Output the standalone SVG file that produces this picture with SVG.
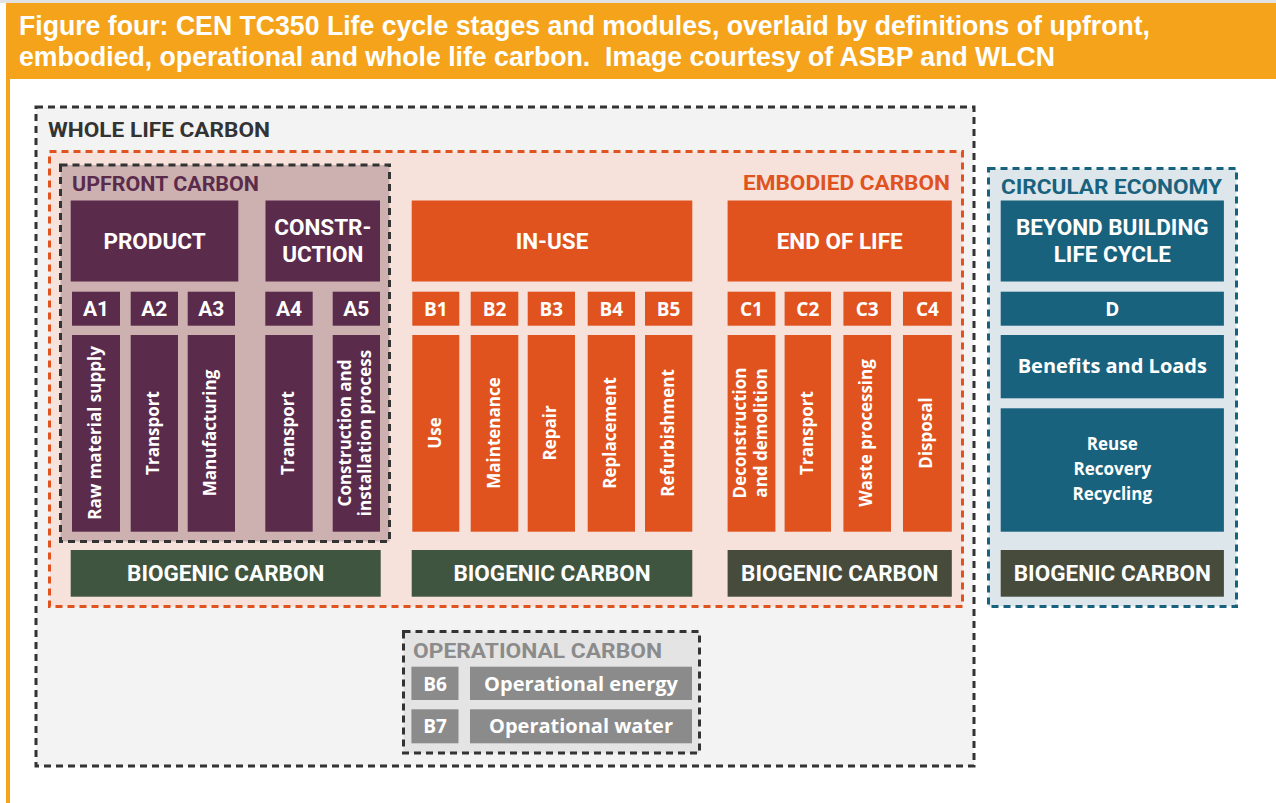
<svg xmlns="http://www.w3.org/2000/svg" width="1276" height="803" viewBox="0 0 1276 803">
<style>
.hdr{font-family:"Liberation Sans Narrow","Liberation Sans",Arial,sans-serif;font-weight:bold;font-size:28px;fill:#ffffff}
.ttl{font-family:Roboto,"Liberation Sans",sans-serif;font-weight:bold;font-size:20px}
.big{font-family:Roboto,"Liberation Sans",sans-serif;font-weight:bold;font-size:22.5px;fill:#ffffff;text-anchor:middle}
.acode{font-family:Roboto,"Liberation Sans",sans-serif;font-weight:bold;font-size:21px;fill:#ffffff;text-anchor:middle}
.code{font-family:"Open Sans","Liberation Sans",sans-serif;font-weight:bold;font-size:19px;fill:#ffffff;text-anchor:middle}
.vt{font-family:"Open Sans","Liberation Sans",sans-serif;font-weight:bold;font-size:17px;fill:#ffffff;text-anchor:middle}
.mid{font-family:"Open Sans","Liberation Sans",sans-serif;font-weight:bold;font-size:20px;fill:#ffffff;text-anchor:middle}
.sm{font-family:"Open Sans","Liberation Sans",sans-serif;font-weight:bold;font-size:17px;fill:#ffffff;text-anchor:middle}
.plum{fill:#5b2b4c}
.org{fill:#e0531e}
.teal{fill:#18627e}
.bio{fill:#40553f}
.bio2{fill:#464b3c}
.gry{fill:#8b8b8b}
.dash{stroke-width:3;stroke-dasharray:7 5}
</style>
<rect x="0" y="0" width="1276" height="3" fill="#e2e2e2"/>
<rect x="6" y="3" width="1270" height="76" fill="#f5a31b"/>
<rect x="6" y="3" width="4" height="800" fill="#f5a31b"/>
<text class="hdr" x="19" y="35" textLength="1131" lengthAdjust="spacingAndGlyphs">Figure four: CEN TC350 Life cycle stages and modules, overlaid by definitions of upfront,</text>
<text class="hdr" x="19" y="66" xml:space="preserve" textLength="1036" lengthAdjust="spacingAndGlyphs">embodied, operational and whole life carbon.  Image courtesy of ASBP and WLCN</text>

<g id="whole-life-carbon">
<rect x="36" y="107" width="938" height="659" fill="#f3f3f3" stroke="#333333" class="dash"/>
<text class="ttl" x="48" y="137" fill="#333333" textLength="222" lengthAdjust="spacingAndGlyphs">WHOLE LIFE CARBON</text>
</g>
<g id="embodied-carbon">
<rect x="49.5" y="151.5" width="913" height="455" fill="#f6e2da" stroke="#e0531e" class="dash"/>
<text class="ttl" x="950" y="190" fill="#e0531e" text-anchor="end" textLength="207" lengthAdjust="spacingAndGlyphs">EMBODIED CARBON</text>
</g>
<g id="upfront-carbon">
<rect x="60.5" y="165" width="329" height="376.5" fill="#cdb1b0" stroke="#333333" class="dash"/>
<text class="ttl" x="72" y="191" fill="#5b2b4c" textLength="187" lengthAdjust="spacingAndGlyphs">UPFRONT CARBON</text>
</g>
<g id="circular-economy">
<rect x="988.5" y="168.5" width="248" height="438" fill="#dde6ea" stroke="#18627e" class="dash"/>
<text class="ttl" x="1001" y="194" fill="#18627e" textLength="221" lengthAdjust="spacingAndGlyphs">CIRCULAR ECONOMY</text>
</g>
<g id="operational-carbon">
<rect x="403.5" y="631.5" width="296" height="121.5" fill="#e4e4e4" stroke="#333333" class="dash"/>
<text class="ttl" x="413" y="658" fill="#8b8b8b" textLength="249" lengthAdjust="spacingAndGlyphs">OPERATIONAL CARBON</text>
</g>

<g id="product">
<rect class="plum" x="70.7" y="200.5" width="167.6" height="81"/>
<text class="big" x="154.5" y="248.5">PRODUCT</text>
</g>
<g id="construction">
<rect class="plum" x="265.5" y="200.5" width="114.5" height="81"/>
<text class="big" x="322.8" y="235">CONSTR-</text>
<text class="big" x="322.8" y="262">UCTION</text>
</g>
<g id="in-use">
<rect class="org" x="411.7" y="200.5" width="280.6" height="81"/>
<text class="big" x="552" y="249">IN-USE</text>
</g>
<g id="end-of-life">
<rect class="org" x="727.6" y="200.5" width="224.2" height="81"/>
<text class="big" x="839.7" y="249">END OF LIFE</text>
</g>
<g id="beyond-building">
<rect class="teal" x="1000.7" y="200.5" width="223.2" height="81"/>
<text class="big" x="1112.3" y="235">BEYOND BUILDING</text>
<text class="big" x="1112.3" y="262">LIFE CYCLE</text>
</g>

<g id="A1"><rect class="plum" x="72" y="291.7" width="48" height="34"/><rect class="plum" x="72" y="335" width="48" height="196.7"/>
<text class="acode" x="96" y="316">A1</text><text class="vt" transform="translate(101,433) rotate(-90)">Raw material supply</text></g>
<g id="A2"><rect class="plum" x="130.7" y="291.7" width="47.3" height="34"/><rect class="plum" x="130.7" y="335" width="47.3" height="196.7"/>
<text class="acode" x="154.3" y="316">A2</text><text class="vt" transform="translate(159.3,433) rotate(-90)">Transport</text></g>
<g id="A3"><rect class="plum" x="187.7" y="291.7" width="47.3" height="34"/><rect class="plum" x="187.7" y="335" width="47.3" height="196.7"/>
<text class="acode" x="211.3" y="316">A3</text><text class="vt" transform="translate(216.3,433) rotate(-90)">Manufacturing</text></g>
<g id="A4"><rect class="plum" x="265.3" y="291.7" width="47.4" height="34"/><rect class="plum" x="265.3" y="335" width="47.4" height="196.7"/>
<text class="acode" x="289" y="316">A4</text><text class="vt" transform="translate(294,433) rotate(-90)">Transport</text></g>
<g id="A5"><rect class="plum" x="332.7" y="291.7" width="47.3" height="34"/><rect class="plum" x="332.7" y="335" width="47.3" height="196.7"/>
<text class="acode" x="356.3" y="316">A5</text><text class="vt" transform="translate(350.5,433) rotate(-90)">Construction and</text><text class="vt" transform="translate(370.5,433) rotate(-90)">installation process</text></g>

<g id="B1"><rect class="org" x="412.3" y="291.7" width="47" height="34"/><rect class="org" x="412.3" y="335" width="47" height="196.7"/>
<text class="code" x="435.8" y="315.5">B1</text><text class="vt" transform="translate(440.8,433) rotate(-90)">Use</text></g>
<g id="B2"><rect class="org" x="470.7" y="291.7" width="47.6" height="34"/><rect class="org" x="470.7" y="335" width="47.6" height="196.7"/>
<text class="code" x="494.5" y="315.5">B2</text><text class="vt" transform="translate(499.5,433) rotate(-90)">Maintenance</text></g>
<g id="B3"><rect class="org" x="527.7" y="291.7" width="47.3" height="34"/><rect class="org" x="527.7" y="335" width="47.3" height="196.7"/>
<text class="code" x="551.3" y="315.5">B3</text><text class="vt" transform="translate(556.3,433) rotate(-90)">Repair</text></g>
<g id="B4"><rect class="org" x="587.7" y="291.7" width="47.3" height="34"/><rect class="org" x="587.7" y="335" width="47.3" height="196.7"/>
<text class="code" x="611.3" y="315.5">B4</text><text class="vt" transform="translate(616.3,433) rotate(-90)">Replacement</text></g>
<g id="B5"><rect class="org" x="645" y="291.7" width="47.3" height="34"/><rect class="org" x="645" y="335" width="47.3" height="196.7"/>
<text class="code" x="668.6" y="315.5">B5</text><text class="vt" transform="translate(673.6,433) rotate(-90)">Refurbishment</text></g>

<g id="C1"><rect class="org" x="727.6" y="291.7" width="47.8" height="34"/><rect class="org" x="727.6" y="335" width="47.8" height="196.7"/>
<text class="code" x="751.5" y="315.5">C1</text><text class="vt" transform="translate(746,433) rotate(-90)">Deconstruction</text><text class="vt" transform="translate(767,433) rotate(-90)">and demolition</text></g>
<g id="C2"><rect class="org" x="784.6" y="291.7" width="46.4" height="34"/><rect class="org" x="784.6" y="335" width="46.4" height="196.7"/>
<text class="code" x="807.8" y="315.5">C2</text><text class="vt" transform="translate(812.8,433) rotate(-90)">Transport</text></g>
<g id="C3"><rect class="org" x="843.4" y="291.7" width="47.6" height="34"/><rect class="org" x="843.4" y="335" width="47.6" height="196.7"/>
<text class="code" x="867.2" y="315.5">C3</text><text class="vt" transform="translate(872.2,433) rotate(-90)">Waste processing</text></g>
<g id="C4"><rect class="org" x="903" y="291.7" width="48.8" height="34"/><rect class="org" x="903" y="335" width="48.8" height="196.7"/>
<text class="code" x="927.4" y="315.5">C4</text><text class="vt" transform="translate(932.4,433) rotate(-90)">Disposal</text></g>

<g id="D"><rect class="teal" x="1000.7" y="291.7" width="223.2" height="34"/>
<text class="code" x="1112.3" y="315.5">D</text></g>
<g id="benefits"><rect class="teal" x="1000.7" y="335" width="223.2" height="63.3"/>
<text class="mid" x="1112.3" y="373">Benefits and Loads</text></g>
<g id="reuse"><rect class="teal" x="1000.7" y="408.3" width="223.2" height="123.4"/>
<text class="sm" x="1112.3" y="450">Reuse</text><text class="sm" x="1112.3" y="475">Recovery</text><text class="sm" x="1112.3" y="500">Recycling</text></g>

<g id="biogenic-1"><rect class="bio" x="70.7" y="550" width="310" height="46.7"/><text class="big" x="225.7" y="581">BIOGENIC CARBON</text></g>
<g id="biogenic-2"><rect class="bio" x="411.7" y="550" width="280.6" height="46.7"/><text class="big" x="552" y="581">BIOGENIC CARBON</text></g>
<g id="biogenic-3"><rect class="bio2" x="727.6" y="550" width="224.2" height="46.7"/><text class="big" x="839.7" y="581">BIOGENIC CARBON</text></g>
<g id="biogenic-4"><rect class="bio2" x="1000.7" y="550" width="223.2" height="46.7"/><text class="big" x="1112.3" y="581">BIOGENIC CARBON</text></g>

<g id="B6"><rect class="gry" x="411.4" y="666.7" width="47.1" height="33.3"/><text class="code" x="435" y="690.5">B6</text>
<rect class="gry" x="470" y="666.7" width="222" height="33.3"/><text class="mid" x="581" y="690.5">Operational energy</text></g>
<g id="B7"><rect class="gry" x="411.4" y="709.3" width="47.1" height="34"/><text class="code" x="435" y="733">B7</text>
<rect class="gry" x="470" y="709.3" width="222" height="34"/><text class="mid" x="581" y="733">Operational water</text></g>

<g id="connectors"></g>
</svg>
